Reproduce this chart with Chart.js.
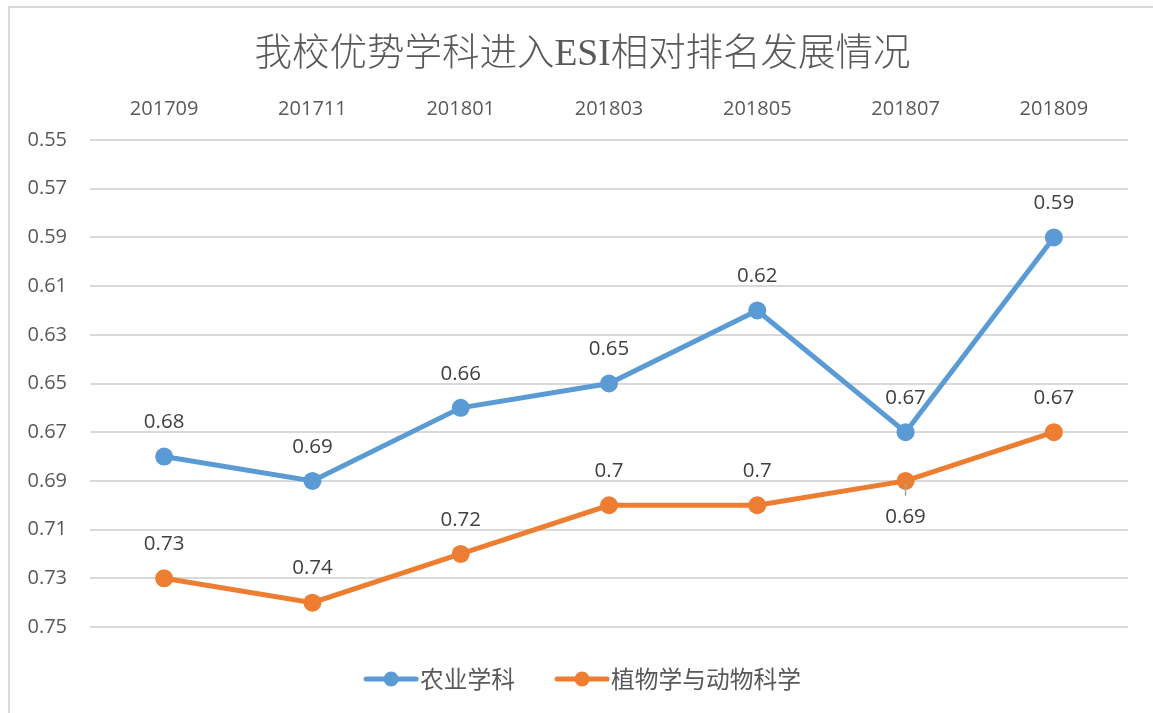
<!DOCTYPE html>
<html><head><meta charset="utf-8">
<script src="https://cdn.jsdelivr.net/npm/chart.js@4.4.0/dist/chart.umd.min.js"></script>
<style>
html,body{margin:0;padding:0;background:#fff;overflow:hidden;width:1153px;height:713px;}
#frame{position:absolute;left:8px;top:6px;width:1300px;height:900px;border:2px solid #D9D9D9;box-sizing:border-box;z-index:0;}
#wrap{position:absolute;left:0;top:0;width:1153px;height:713px;z-index:1;}
</style></head><body>
<div id="frame"></div>
<div id="wrap"><canvas id="c"></canvas></div>
<script>
const titleText = '我校优势学科进入ESI相对排名发展情况';
const categories = ['201709', '201711', '201801', '201803', '201805', '201807', '201809'];
const seriesNames = ['农业学科', '植物学与动物科学'];
const agriValues = [0.68, 0.69, 0.66, 0.65, 0.62, 0.67, 0.59];
const plantValues = [0.73, 0.74, 0.72, 0.70, 0.70, 0.69, 0.67];
const yTickValues = [0.55, 0.57, 0.59, 0.61, 0.63, 0.65, 0.67, 0.69, 0.71, 0.73, 0.75];

const BLUE = '#5B9BD5', ORANGE = '#ED7D31';
const NUM_FONT = '"Open Sans", "Noto Sans", sans-serif';
const CJK_FONT = '"Noto Sans CJK SC", sans-serif';

function legendIcon(color) {
  const c = document.createElement('canvas');
  c.width = 66; c.height = 18;
  const g = c.getContext('2d');
  g.strokeStyle = color; g.lineWidth = 5; g.lineCap = 'round';
  g.beginPath(); g.moveTo(13, 9); g.lineTo(63, 9); g.stroke();
  g.fillStyle = color;
  g.beginPath(); g.arc(38, 9, 7.5, 0, Math.PI * 2); g.fill();
  return c;
}

const dataLabelPlugin = {
  id: 'dataLabels',
  afterDatasetsDraw(chart, args, opts) {
    const ctx = chart.ctx;
    ctx.save();
    ctx.font = '20.5px ' + NUM_FONT;
    ctx.fillStyle = '#404040';
    ctx.textAlign = 'center';
    ctx.textBaseline = 'middle';
    chart.data.datasets.forEach((ds, i) => {
      const meta = chart.getDatasetMeta(i);
      const below = (opts.below && opts.below[i]) || [];
      meta.data.forEach((pt, j) => {
        const isBelow = below.includes(j);
        if (isBelow) {
          ctx.strokeStyle = '#A6A6A6';
          ctx.lineWidth = 1.5;
          ctx.beginPath();
          ctx.moveTo(pt.x, pt.y + 2);
          ctx.lineTo(pt.x, pt.y + 15);
          ctx.stroke();
        }
        ctx.fillText(String(ds.data[j]), pt.x, isBelow ? pt.y + 36 : pt.y - 34);
      });
    });
    ctx.restore();
  }
};

new Chart(document.getElementById('c'), {
  type: 'line',
  data: {
    labels: categories,
    datasets: [
      { label: seriesNames[0], data: agriValues, borderColor: BLUE, backgroundColor: BLUE,
        borderWidth: 5, pointRadius: 9, pointBorderWidth: 0, pointBackgroundColor: BLUE, tension: 0 },
      { label: seriesNames[1], data: plantValues, borderColor: ORANGE, backgroundColor: ORANGE,
        borderWidth: 5, pointRadius: 9, pointBorderWidth: 0, pointBackgroundColor: ORANGE, tension: 0 }
    ]
  },
  options: {
    responsive: true,
    maintainAspectRatio: false,
    animation: false,
    events: [],
    layout: { padding: { left: 12, right: 0, top: 0, bottom: 12.15 } },
    scales: {
      x: {
        position: 'top',
        offset: true,
        grid: { display: false, drawTicks: false },
        border: { display: false },
        ticks: { color: '#595959', font: { family: NUM_FONT, size: 20 }, padding: 19, maxRotation: 0 },
        afterFit(s) { s.height = 62.5; }
      },
      y: {
        position: 'left',
        reverse: true,
        min: 0.55,
        max: 0.75,
        afterBuildTicks(s) { s.ticks = yTickValues.map(v => ({ value: v })); },
        grid: { color: '#D9D9D9', lineWidth: 2, drawTicks: false },
        border: { display: false },
        ticks: { color: '#595959', font: { family: NUM_FONT, size: 20 }, padding: 23,
          callback: v => Number(v).toFixed(2) },
        afterFit(s) { s.width = 78; }
      },
      y2: {
        position: 'right',
        display: true,
        grid: { display: false, drawTicks: false },
        border: { display: false },
        ticks: { display: false },
        afterFit(s) { s.width = 25; }
      }
    },
    plugins: {
      title: {
        display: true,
        text: titleText,
        color: '#595959',
        font: { family: '"Liberation Serif", "Noto Sans CJK SC", serif', size: 37.5, weight: 300 },
        padding: { top: 32.5, bottom: 0 }
      },
      legend: {
        display: true,
        position: 'bottom',
        labels: {
          usePointStyle: true,
          pointStyleWidth: 44,
          padding: 40.1,
          color: '#595959',
          font: { family: CJK_FONT, size: 23.75 },
          generateLabels(chart) {
            const items = Chart.defaults.plugins.legend.labels.generateLabels(chart);
            const colors = [BLUE, ORANGE];
            items.forEach((it, i) => { it.pointStyle = legendIcon(colors[i]); });
            return items;
          }
        }
      },
      tooltip: { enabled: false },
      dataLabels: { below: [[], [5]] }
    }
  },
  plugins: [dataLabelPlugin]
});
</script>
</body></html>
